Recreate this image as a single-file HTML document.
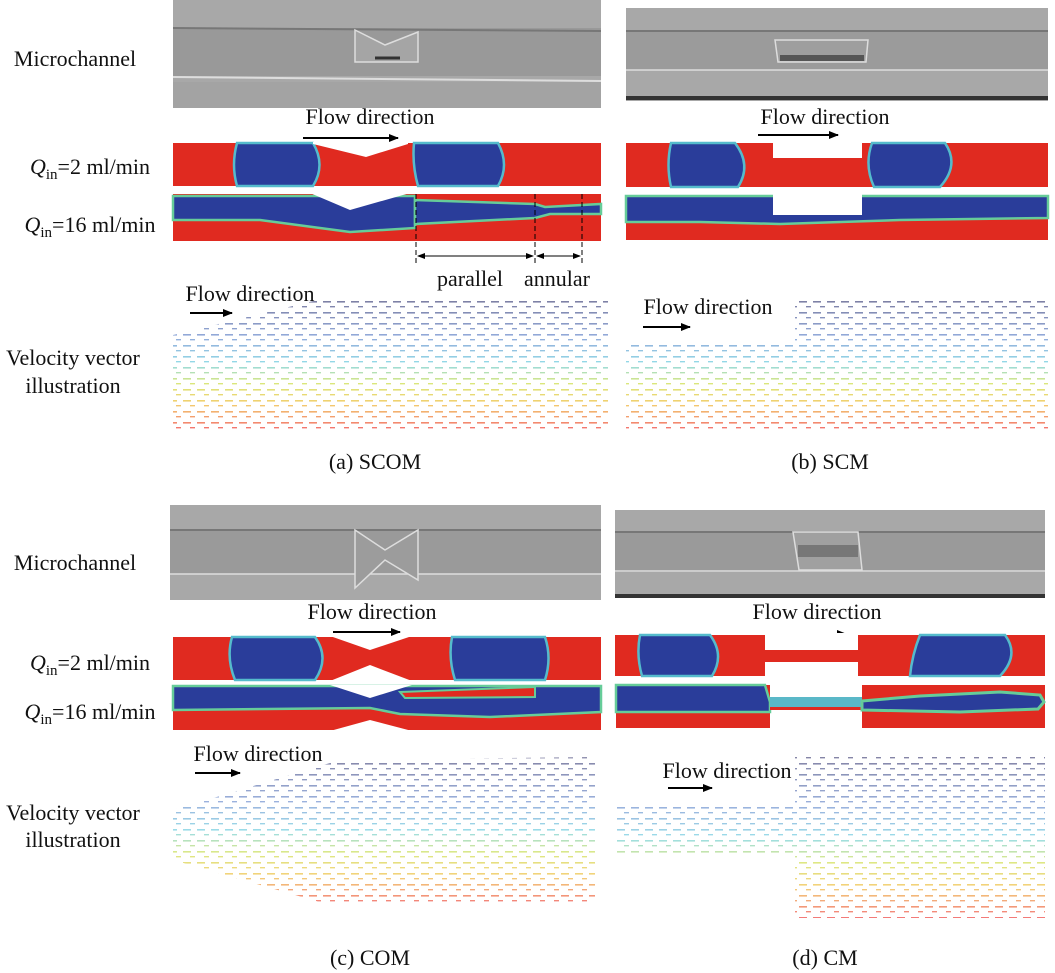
<!DOCTYPE html>
<html><head><meta charset="utf-8"><style>
html,body{margin:0;padding:0;background:#fff;}
svg{display:block;}
text{font-family:"Liberation Serif",serif;fill:#111;}
</style></head><body>
<svg width="1055" height="973" viewBox="0 0 1055 973" xmlns="http://www.w3.org/2000/svg">
<defs>
<marker id="ah" markerWidth="10" markerHeight="8" refX="9" refY="4" orient="auto" markerUnits="userSpaceOnUse"><path d="M0,0 L10,4 L0,8 z" fill="#000"/></marker>
<marker id="ah2" markerWidth="8" markerHeight="6" refX="7" refY="3" orient="auto-start-reverse" markerUnits="userSpaceOnUse"><path d="M0,0 L8,3 L0,6 z" fill="#000"/></marker>
<linearGradient id="vg" x1="0" y1="1" x2="0" y2="0">
<stop offset="0" stop-color="#e33"/><stop offset="0.2" stop-color="#eb3"/><stop offset="0.35" stop-color="#cd4"/><stop offset="0.5" stop-color="#6cd"/><stop offset="0.7" stop-color="#68c"/><stop offset="1" stop-color="#447"/>
</linearGradient>
<pattern id="dash" width="14" height="11" patternUnits="userSpaceOnUse">
<rect x="1" y="4" width="8" height="1.6" fill="#fff"/>
<rect x="8" y="9" width="5" height="1.4" fill="#fff"/>
</pattern>
<mask id="m1"><rect width="1055" height="973" fill="url(#dash)"/></mask>
</defs>

<g font-size="22">
<text x="75" y="66" text-anchor="middle">Microchannel</text>
<text x="90" y="174" text-anchor="middle"><tspan font-style="italic">Q</tspan><tspan font-size="15" dy="5">in</tspan><tspan dy="-5">=2 ml/min</tspan></text>
<text x="90" y="232" text-anchor="middle"><tspan font-style="italic">Q</tspan><tspan font-size="15" dy="5">in</tspan><tspan dy="-5">=16 ml/min</tspan></text>
<text x="73" y="365" text-anchor="middle">Velocity vector</text>
<text x="73" y="393" text-anchor="middle">illustration</text>

<text x="75" y="570" text-anchor="middle">Microchannel</text>
<text x="90" y="670" text-anchor="middle"><tspan font-style="italic">Q</tspan><tspan font-size="15" dy="5">in</tspan><tspan dy="-5">=2 ml/min</tspan></text>
<text x="90" y="719" text-anchor="middle"><tspan font-style="italic">Q</tspan><tspan font-size="15" dy="5">in</tspan><tspan dy="-5">=16 ml/min</tspan></text>
<text x="73" y="820" text-anchor="middle">Velocity vector</text>
<text x="73" y="847" text-anchor="middle">illustration</text>
</g>

<!-- ===== (a) ===== -->
<rect x="173" y="0" width="428" height="108" fill="#a8a8a8"/>
<rect x="173" y="28" width="428" height="48" fill="#999"/>
<line x1="173" y1="28" x2="601" y2="31" stroke="#777" stroke-width="2"/>
<line x1="173" y1="77" x2="601" y2="81" stroke="#ddd" stroke-width="2"/>
<rect x="173" y="82" width="428" height="26" fill="#a3a3a3"/>
<path d="M355,30 L385,45 L418,32 L418,62 L355,62 Z" fill="#a5a5a5" stroke="#ddd" stroke-width="1.5"/>
<path d="M375,58 L400,58" stroke="#333" stroke-width="3"/>
<text x="370" y="124" font-size="22" text-anchor="middle">Flow direction</text>
<line x1="303" y1="138" x2="398" y2="138" stroke="#000" stroke-width="2" marker-end="url(#ah)"/>
<rect x="173" y="143" width="428" height="43" fill="#e02a20"/>
<path d="M237,143 L313,143 Q326,165 313,186 L237,186 Q231,165 237,143Z" fill="#2a3d9a" stroke="#5bc" stroke-width="2.5"/>
<path d="M414,143 L498,143 Q510,165 498,186 L418,186 Q412,165 414,143Z" fill="#2a3d9a" stroke="#5bc" stroke-width="2.5"/>
<path d="M313,142 L408,142 L408,144 L366,157 L313,144Z" fill="#fff"/>
<rect x="173" y="194" width="428" height="47" fill="#e02a20"/>
<path d="M173,196 L415,196 L415,228 L350,232 L260,220 L173,220 Z" fill="#2a3d9a" stroke="#6c9" stroke-width="2.5"/>
<path d="M415,200 L535,204 L545,207 L601,204 L601,214 L550,214 L535,218 L415,224 Z" fill="#2a3d9a" stroke="#6c9" stroke-width="2.5"/>
<path d="M310,193 L410,193 L350,210 Z" fill="#fff"/>
<line x1="416" y1="194" x2="416" y2="264" stroke="#000" stroke-dasharray="5,3"/>
<line x1="535" y1="194" x2="535" y2="264" stroke="#000" stroke-dasharray="5,3"/>
<line x1="582" y1="194" x2="582" y2="264" stroke="#000" stroke-dasharray="5,3"/>
<line x1="418" y1="256" x2="533" y2="256" stroke="#000" marker-start="url(#ah2)" marker-end="url(#ah2)"/>
<line x1="537" y1="256" x2="580" y2="256" stroke="#000" marker-start="url(#ah2)" marker-end="url(#ah2)"/>
<text x="470" y="286" font-size="22" text-anchor="middle">parallel</text>
<text x="557" y="286" font-size="22" text-anchor="middle">annular</text>
<text x="250" y="301" font-size="22" text-anchor="middle">Flow direction</text>
<line x1="190" y1="313" x2="232" y2="313" stroke="#000" stroke-width="2" marker-end="url(#ah)"/>
<path d="M173,335 L330,297 L608,297 L608,430 L173,430 Z" fill="url(#vg)" mask="url(#m1)" opacity="0.7"/>
<text x="375" y="469" font-size="22" text-anchor="middle">(a) SCOM</text>

<!-- ===== (b) ===== -->
<rect x="626" y="8" width="422" height="93" fill="#a8a8a8"/>
<rect x="626" y="32" width="422" height="38" fill="#9b9b9b"/>
<line x1="626" y1="31" x2="1048" y2="31" stroke="#777" stroke-width="2"/>
<line x1="626" y1="70" x2="1048" y2="70" stroke="#ddd" stroke-width="1.5"/>
<rect x="626" y="96" width="422" height="4" fill="#333"/>
<path d="M775,40 L868,40 L866,62 L778,62 Z" fill="#9e9e9e" stroke="#ddd" stroke-width="1.5"/>
<rect x="780" y="55" width="84" height="6" fill="#555"/>
<text x="825" y="124" font-size="22" text-anchor="middle">Flow direction</text>
<line x1="758" y1="135" x2="838" y2="135" stroke="#000" stroke-width="2" marker-end="url(#ah)"/>
<rect x="626" y="143" width="422" height="44" fill="#e02a20"/>
<rect x="773" y="141" width="89" height="17" fill="#fff"/>
<path d="M671,143 L735,143 Q752,165 738,187 L671,187 Q666,165 671,143Z" fill="#2a3d9a" stroke="#5bc" stroke-width="2.5"/>
<path d="M872,143 L945,143 Q960,165 940,187 L874,187 Q864,165 872,143Z" fill="#2a3d9a" stroke="#5bc" stroke-width="2.5"/>
<rect x="626" y="196" width="422" height="44" fill="#e02a20"/>
<path d="M626,196 L1048,196 L1048,218 L900,220 L780,224 L700,222 L626,222Z" fill="#2a3d9a" stroke="#6c9" stroke-width="2.5"/>
<rect x="773" y="194" width="89" height="21" fill="#fff"/>
<text x="708" y="314" font-size="22" text-anchor="middle">Flow direction</text>
<line x1="643" y1="327" x2="690" y2="327" stroke="#000" stroke-width="2" marker-end="url(#ah)"/>
<path d="M626,345 L795,345 L795,297 L1048,297 L1048,430 L626,430Z" fill="url(#vg)" mask="url(#m1)" opacity="0.7"/>
<text x="830" y="469" font-size="22" text-anchor="middle">(b) SCM</text>

<!-- ===== (c) ===== -->
<rect x="170" y="505" width="431" height="95" fill="#a8a8a8"/>
<rect x="170" y="530" width="431" height="44" fill="#9a9a9a"/>
<line x1="170" y1="530" x2="601" y2="530" stroke="#777" stroke-width="2"/>
<line x1="170" y1="574" x2="601" y2="574" stroke="#ddd" stroke-width="1.5"/>
<path d="M355,530 L385,550 L418,530 L418,580 L385,560 L355,588 Z" fill="#9c9c9c" stroke="#ddd" stroke-width="1.5"/>
<text x="372" y="619" font-size="22" text-anchor="middle">Flow direction</text>
<line x1="333" y1="632" x2="400" y2="632" stroke="#000" stroke-width="2" marker-end="url(#ah)"/>
<rect x="173" y="637" width="428" height="43" fill="#e02a20"/>
<path d="M232,637 L315,637 Q330,658 315,680 L235,680 Q226,658 232,637Z" fill="#2a3d9a" stroke="#5bc" stroke-width="2.5"/>
<path d="M452,637 L545,637 Q552,658 545,680 L455,680 Q448,658 452,637Z" fill="#2a3d9a" stroke="#5bc" stroke-width="2.5"/>
<path d="M330,636 L412,636 L370,650 Z" fill="#fff"/>
<path d="M330,681 L412,681 L370,665 Z" fill="#fff"/>
<rect x="173" y="686" width="428" height="44" fill="#e02a20"/>
<path d="M173,686 L601,686 L601,712 L490,717 L400,714 L370,708 L173,710 Z" fill="#2a3d9a" stroke="#6c9" stroke-width="2.5"/>
<path d="M400,692 L535,687 L535,697 L405,698 Z" fill="#e02a20" stroke="#6c9" stroke-width="2"/>
<path d="M330,685 L412,685 L370,698 Z" fill="#fff"/>
<path d="M330,731 L412,731 L370,720 Z" fill="#fff"/>
<text x="258" y="761" font-size="22" text-anchor="middle">Flow direction</text>
<line x1="195" y1="773" x2="240" y2="773" stroke="#000" stroke-width="2" marker-end="url(#ah)"/>
<path d="M173,810 L340,760 L595,757 L595,905 L330,905 L173,860 Z" fill="url(#vg)" mask="url(#m1)" opacity="0.65"/>
<text x="370" y="965" font-size="22" text-anchor="middle">(c) COM</text>

<!-- ===== (d) ===== -->
<rect x="615" y="510" width="430" height="88" fill="#a8a8a8"/>
<rect x="615" y="532" width="430" height="40" fill="#9a9a9a"/>
<line x1="615" y1="532" x2="1045" y2="532" stroke="#777" stroke-width="2"/>
<line x1="615" y1="571" x2="1045" y2="571" stroke="#ddd" stroke-width="1.5"/>
<rect x="615" y="594" width="430" height="4" fill="#333"/>
<path d="M793,532 L858,532 L862,570 L799,570 Z" fill="#a0a0a0" stroke="#ddd" stroke-width="1.5"/>
<rect x="798" y="545" width="60" height="12" fill="#777"/>
<text x="817" y="619" font-size="22" text-anchor="middle">Flow direction</text>
<line x1="778" y1="634" x2="846" y2="634" stroke="#000" stroke-width="2" marker-end="url(#ah)"/>
<rect x="615" y="635" width="430" height="41" fill="#e02a20"/>
<path d="M640,635 L710,635 Q725,655 712,676 L642,676 Q636,655 640,635Z" fill="#2a3d9a" stroke="#5bc" stroke-width="2.5"/>
<path d="M920,635 L1005,635 Q1020,655 1000,676 L910,676 Q912,655 920,635Z" fill="#2a3d9a" stroke="#5bc" stroke-width="2.5"/>
<rect x="765" y="633" width="93" height="17" fill="#fff"/>
<rect x="765" y="662" width="93" height="16" fill="#fff"/>
<!-- Qin16 d -->
<rect x="616" y="685" width="154" height="43" fill="#e02a20"/>
<path d="M616,685 L765,685 L770,702 L770,712 L616,712 Z" fill="#2a3d9a" stroke="#6c9" stroke-width="2.5"/>
<rect x="770" y="697" width="92" height="13" fill="#e02a20"/>
<rect x="770" y="697" width="92" height="10" fill="#5ab8c8"/>
<rect x="862" y="685" width="183" height="43" fill="#e02a20"/>
<path d="M862,701 L920,696 L1000,692 L1040,695 L1044,702 L1038,709 L960,712 L862,710 Z" fill="#2a3d9a" stroke="#6c9" stroke-width="3"/>
<text x="727" y="778" font-size="22" text-anchor="middle">Flow direction</text>
<line x1="668" y1="788" x2="712" y2="788" stroke="#000" stroke-width="2" marker-end="url(#ah)"/>
<path d="M615,805 L795,805 L795,757 L1045,757 L1045,918 L795,918 L795,855 L615,855Z" fill="url(#vg)" mask="url(#m1)" opacity="0.65"/>
<text x="825" y="965" font-size="22" text-anchor="middle">(d) CM</text>
</svg>
</body></html>
